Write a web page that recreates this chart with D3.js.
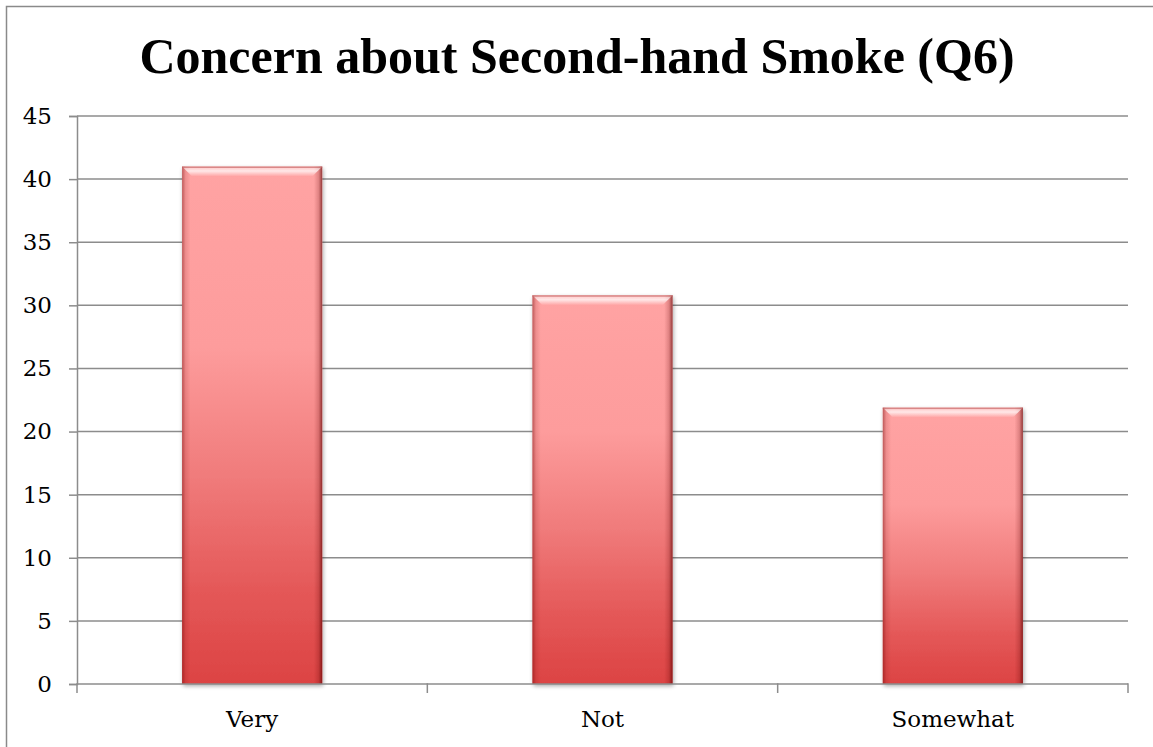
<!DOCTYPE html>
<html>
<head>
<meta charset="utf-8">
<script src="https://cdn.jsdelivr.net/npm/d3@7"></script>
<style>
  html, body { margin: 0; padding: 0; background: #fff; }
  svg { display: block; }
</style>
</head>
<body>
<svg id="chart" width="1153" height="747"></svg>
<script>
const titleText = "Concern about Second-hand Smoke (Q6)";
const categories = ["Very", "Not", "Somewhat"];
const values = [41, 30.8, 21.9];
const yTicks = [0, 5, 10, 15, 20, 25, 30, 35, 40, 45];

const W = 1153, H = 747;
const plot = { left: 77, right: 1128, top: 116, bottom: 684 };
const svg = d3.select("#chart");
const defs = svg.append("defs");

// gradients
const vg = defs.append("linearGradient").attr("id", "barV").attr("x1", 0).attr("y1", 0).attr("x2", 0).attr("y2", 1);
[[0, "#ffa3a3"], [0.35, "#fd9c9c"], [0.6, "#f07b7b"], [0.82, "#e45858"], [1, "#dc4343"]]
  .forEach(([o, c]) => vg.append("stop").attr("offset", o).attr("stop-color", c));
const hg = defs.append("linearGradient").attr("id", "barH").attr("x1", 0).attr("y1", 0).attr("x2", 1).attr("y2", 0);
[[0, "rgba(110,0,0,0.45)"], [0.025, "rgba(110,0,0,0.12)"], [0.06, "rgba(110,0,0,0)"], [0.94, "rgba(110,0,0,0)"], [0.975, "rgba(90,0,0,0.2)"], [1, "rgba(90,0,0,0.65)"]]
  .forEach(([o, c]) => hg.append("stop").attr("offset", o).attr("stop-color", c));
const tg = defs.append("linearGradient").attr("id", "bevel").attr("x1", 0).attr("y1", 0).attr("x2", 0).attr("y2", 1);
[[0, "rgba(255,255,255,0.35)"], [0.45, "rgba(255,255,255,0.75)"], [1, "rgba(255,255,255,0)"]]
  .forEach(([o, c]) => tg.append("stop").attr("offset", o).attr("stop-color", c));
const f = defs.append("filter").attr("id", "shadow").attr("x", "-10%").attr("y", "-10%").attr("width", "130%").attr("height", "130%");
f.append("feGaussianBlur").attr("in", "SourceAlpha").attr("stdDeviation", 2.2).attr("result", "b");
f.append("feOffset").attr("in", "b").attr("dx", 1).attr("dy", 2).attr("result", "o");
f.append("feComponentTransfer").attr("in", "o").attr("result", "s")
  .append("feFuncA").attr("type", "linear").attr("slope", 0.35);
const fm = f.append("feMerge");
fm.append("feMergeNode").attr("in", "s");
fm.append("feMergeNode").attr("in", "SourceGraphic");

// outer border (top and left visible)
svg.append("path").attr("d", `M6.5,${H + 5} V6.5 H${W + 5}`)
  .attr("fill", "none").attr("stroke", "#8a8a8a").attr("stroke-width", 1.5);

// title
svg.append("text").attr("x", 577).attr("y", 73).attr("text-anchor", "middle")
  .attr("font-family", "'Liberation Serif', serif").attr("font-weight", "bold")
  .attr("font-size", 50).attr("fill", "#000").text(titleText);

// scales
const y = d3.scaleLinear().domain([0, 45]).range([plot.bottom, plot.top]);
const xOuter = d3.scaleBand().domain(categories).range([plot.left, plot.right]).padding(0);
const x = d3.scaleBand().domain(categories).range([plot.left, plot.right]).paddingInner(0.6).paddingOuter(0.3);

const lineColor = "#8c8c8c";

// gridlines
svg.append("g").selectAll("line").data(yTicks.filter(d => d > 0)).join("line")
  .attr("x1", plot.left).attr("x2", plot.right)
  .attr("y1", d => y(d)).attr("y2", d => y(d))
  .attr("stroke", lineColor).attr("stroke-width", 1.5);

// y axis
const yAxis = svg.append("g").attr("transform", `translate(${plot.left},0)`)
  .call(d3.axisLeft(y).tickValues(yTicks).tickSize(8).tickPadding(17).tickFormat(d3.format("d")));
yAxis.select(".domain").attr("stroke", lineColor).attr("stroke-width", 1.5);
yAxis.selectAll(".tick line").attr("stroke", lineColor).attr("stroke-width", 1.5);
yAxis.selectAll(".tick text").attr("font-family", "'DejaVu Serif', serif").attr("font-size", 23).attr("fill", "#000");

// bars
const bars = svg.append("g").selectAll("g").data(categories.map((c, i) => ({ c, v: values[i] }))).join("g");
bars.append("rect")
  .attr("x", d => x(d.c)).attr("width", x.bandwidth())
  .attr("y", d => y(d.v)).attr("height", d => y(0) - y(d.v))
  .attr("fill", "url(#barV)").attr("filter", "url(#shadow)");
bars.append("rect")
  .attr("x", d => x(d.c)).attr("width", x.bandwidth())
  .attr("y", d => y(d.v)).attr("height", d => y(0) - y(d.v))
  .attr("fill", "url(#barH)");
bars.append("path")
  .attr("d", d => {
    const x0 = x(d.c), x1 = x0 + x.bandwidth(), t = y(d.v), h = 10;
    return `M${x0},${t} H${x1} L${x1 - h},${t + h} H${x0 + h} Z`;
  })
  .attr("fill", "url(#bevel)");
bars.append("rect")
  .attr("x", d => x(d.c)).attr("width", x.bandwidth())
  .attr("y", d => y(d.v)).attr("height", 1.5)
  .attr("fill", "rgba(190,90,90,0.6)");

// x axis
const xg = svg.append("g");
xg.append("line").attr("x1", plot.left).attr("x2", plot.right)
  .attr("y1", plot.bottom).attr("y2", plot.bottom)
  .attr("stroke", lineColor).attr("stroke-width", 1.5);
const xTickPos = categories.map(c => xOuter(c)).concat([plot.right]);
xg.selectAll("line.tk").data(xTickPos).join("line").attr("class", "tk")
  .attr("x1", d => d).attr("x2", d => d)
  .attr("y1", plot.bottom - 0.75).attr("y2", plot.bottom + 9)
  .attr("stroke", lineColor).attr("stroke-width", 1.5);
xg.selectAll("text").data(categories).join("text")
  .attr("x", d => xOuter(d) + xOuter.bandwidth() / 2).attr("y", plot.bottom + 43)
  .attr("text-anchor", "middle")
  .attr("font-family", "'DejaVu Serif', serif").attr("font-size", 23).attr("fill", "#000")
  .text(d => d);
</script>
</body>
</html>
